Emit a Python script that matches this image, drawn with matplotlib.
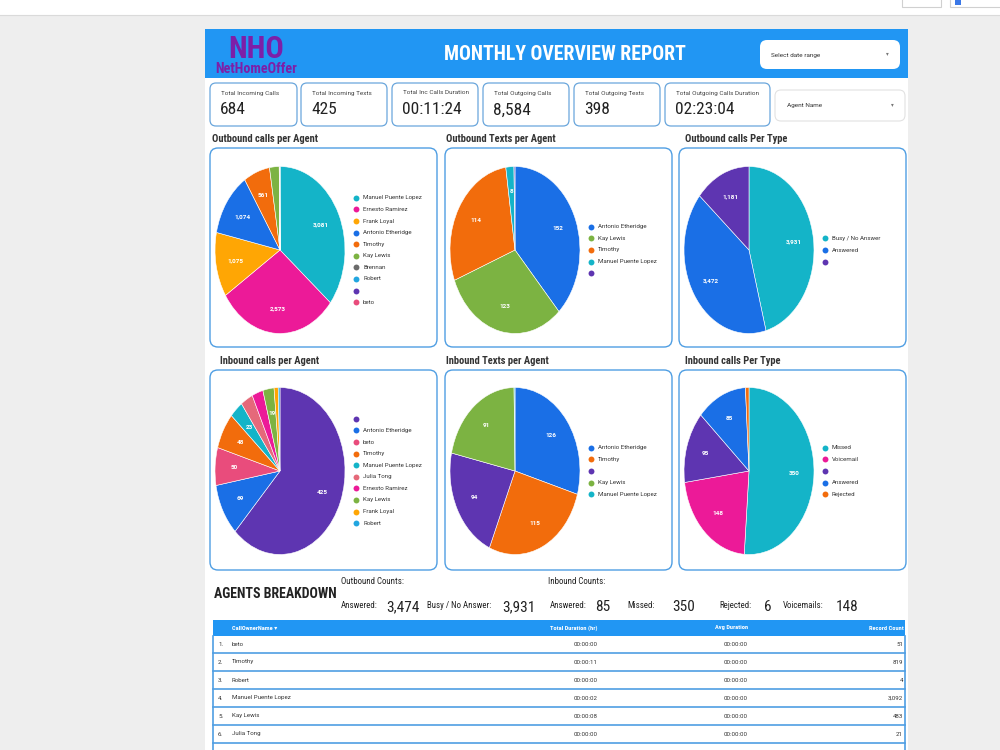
import numpy as np
import matplotlib
matplotlib.use('Agg')
import matplotlib.pyplot as plt
from matplotlib import font_manager as fm
from matplotlib.patches import FancyBboxPatch, Rectangle

W, H = 1000, 750

names = {f.name for f in fm.fontManager.ttflist}


def pick(*cands):
    for c in cands:
        if c in names:
            return c
    return 'DejaVu Sans'


NARROW = pick('Roboto Condensed', 'Liberation Sans Narrow', 'Arial Narrow', 'Liberation Sans')
SANS = pick('Roboto', 'Liberation Sans')
plt.rcParams['font.family'] = [SANS, 'DejaVu Sans']
NARROW_F = [NARROW, 'DejaVu Sans']

# ---- data ----
kpi_labels = ['Total Incoming Calls', 'Total Incoming Texts', 'Total Inc Calls Duration',
              'Total Outgoing Calls', 'Total Outgoing Texts', 'Total Outgoing Calls Duration']
kpi_values = ['684', '425', '00:11:24', '8,584', '398', '02:23:04']

ob_call_agents = ['Manuel Puente Lopez', 'Ernesto Ramirez', 'Frank Loyal', 'Antonio Etheridge',
                  'Timothy', 'Kay Lewis', 'Brennan', 'Robert', '', 'beto']
ob_call_counts = [3081, 2573, 1075, 1074, 561, 205, 8, 4, 3, 2]
ob_call_shown = 5

ob_text_agents = ['Antonio Etheridge', 'Kay Lewis', 'Timothy', 'Manuel Puente Lopez', '']
ob_text_counts = [152, 123, 114, 8, 1]
ob_text_shown = 4

ob_types = ['Busy / No Answer', 'Answered', '']
ob_type_counts = [3931, 3472, 1181]
ob_type_shown = 3

ib_call_agents = ['', 'Antonio Etheridge', 'beto', 'Timothy', 'Manuel Puente Lopez', 'Julia Tong',
                  'Ernesto Ramirez', 'Kay Lewis', 'Frank Loyal', 'Robert']
ib_call_counts = [425, 69, 50, 48, 23, 21, 19, 19, 7, 3]
ib_call_labelled = ['', 'Antonio Etheridge', 'beto', 'Timothy', 'Manuel Puente Lopez', 'Kay Lewis']

ib_text_agents = ['Antonio Etheridge', 'Timothy', '', 'Kay Lewis', 'Manuel Puente Lopez']
ib_text_counts = [126, 115, 94, 91, 1]
ib_text_shown = 4

ib_types = ['Missed', 'Voicemail', '', 'Answered', 'Rejected']
ib_type_counts = [350, 148, 95, 85, 6]
ib_type_shown = 4

count_labels = ['Answered:', 'Busy / No Answer:', 'Answered:', 'Missed:', 'Rejected:', 'Voicemails:']
count_values = ['3,474', '3,931', '85', '350', '6', '148']

table_cols = ['CallOwnerName \u25be', 'Total Duration (hr)', 'Avg Duration', 'Record Count']
table_names = ['beto', 'Timothy', 'Robert', 'Manuel Puente Lopez', 'Kay Lewis', 'Julia Tong']
table_total = ['00:00:00', '00:00:11', '00:00:00', '00:00:02', '00:00:08', '00:00:00']
table_avg = ['00:00:00'] * 6
table_count = ['51', '819', '4', '3,092', '483', '21']

colors = {
    'Manuel Puente Lopez': '#14b4c8', 'Ernesto Ramirez': '#ec1a98', 'Frank Loyal': '#ffa604',
    'Antonio Etheridge': '#1a6fe6', 'Timothy': '#f26c0c', 'Kay Lewis': '#7cb342',
    'Brennan': '#6b6b6b', 'Robert': '#22a6e0', '': '#5e35b1', 'beto': '#e94c7c',
    'Julia Tong': '#e5697a',
    'Busy / No Answer': '#14b4c8', 'Answered': '#1a6fe6', 'Missed': '#14b4c8',
    'Voicemail': '#ec1a98', 'Rejected': '#f26c0c',
}

BLUE = '#2196f3'
BORDER = '#4f9ee3'
PURPLE = '#7d1fa8'

fig = plt.figure(figsize=(10, 7.5), dpi=100, facecolor='#eeeeee')
bg = fig.add_axes([0, 0, 1, 1])
bg.set_xlim(0, W)
bg.set_ylim(H, 0)
bg.axis('off')


def rbox(x0, y0, x1, y1, fc='white', ec='none', lw=1.0, r=5, z=1):
    bg.add_patch(FancyBboxPatch((x0, y0), x1 - x0, y1 - y0,
                                boxstyle=f'round,pad=0,rounding_size={r}',
                                fc=fc, ec=ec, lw=lw, zorder=z))


def rect(x0, y0, x1, y1, fc, ec='none', lw=0, z=1):
    bg.add_patch(Rectangle((x0, y0), x1 - x0, y1 - y0, fc=fc, ec=ec, lw=lw, zorder=z))


# browser strip
rect(0, 0, W, 15, 'white')
bg.plot([0, W], [15, 15], color='#dadada', lw=0.8)
rect(902, -3, 941, 7, 'white', '#d0d0d0', 0.8)
rect(950, -3, 1003, 7, 'white', '#d0d0d0', 0.8)
rect(955, -1, 961, 5, '#3b78e7', z=2)

# report sheet
rect(205, 29, 908, H, 'white')
rect(205, 29, 908, 78, BLUE)

bg.text(256, 49, 'NHO', fontsize=22, fontweight='bold', color=PURPLE, family=NARROW_F,
        ha='center', va='center')
bg.text(256, 69, 'NetHomeOffer', fontsize=10.2, fontweight='bold', color=PURPLE, family=NARROW_F,
        ha='center', va='center')
bg.text(565, 54, 'MONTHLY OVERVIEW REPORT', fontsize=14.2, fontweight='bold', color='white',
        family=NARROW_F, ha='center', va='center')

rbox(760, 40, 900, 69, r=7, z=2)
bg.text(771, 55, 'Select date range', fontsize=4.6, color='#333333', va='center', zorder=3)
bg.text(887, 54, '\u25be', fontsize=4, color='#777777', va='center', ha='center',
        family='DejaVu Sans', zorder=3)

# KPI cards
kpi_x = [(210, 297), (301, 387), (392, 478), (483, 569), (574, 660), (665, 770)]
for (x0, x1), lab, val in zip(kpi_x, kpi_labels, kpi_values):
    rbox(x0, 83, x1, 126, ec='#6aa6dc', lw=0.9, r=6, z=2)
    bg.text(x0 + 11, 93, lab, fontsize=4.6, color='#444444', va='center', zorder=3)
    bg.text(x0 + 10, 110, val, fontsize=12.5, color='#222222', family=NARROW_F, va='center',
            zorder=3)

rbox(775, 90, 905, 121, ec='#e2e2e2', lw=0.8, r=6, z=2)
bg.text(787, 106, 'Agent Name', fontsize=4.6, color='#333333', va='center', zorder=3)
bg.text(892, 105, '\u25be', fontsize=4, color='#777777', va='center', ha='center',
        family='DejaVu Sans', zorder=3)

# pie panels
panel_x = [(210, 437), (445, 672), (679, 906)]
rows = [(148, 347, 139, 250), (370, 570, 361, 471)]
titles = [['Outbound calls per Agent', 'Outbound Texts per Agent', 'Outbound calls Per Type'],
          ['Inbound calls per Agent', 'Inbound Texts per Agent', 'Inbound calls Per Type']]
title_dx = [[2, 1, 6], [10, 1, 6]]
pies = [[(ob_call_agents, ob_call_counts, ob_call_agents[:ob_call_shown]),
         (ob_text_agents, ob_text_counts, ob_text_agents[:ob_text_shown]),
         (ob_types, ob_type_counts, ob_types[:ob_type_shown])],
        [(ib_call_agents, ib_call_counts, ib_call_labelled),
         (ib_text_agents, ib_text_counts, ib_text_agents[:ib_text_shown]),
         (ib_types, ib_type_counts, ib_types[:ib_type_shown])]]

PW, PH = 130, 167
for r, (y0, y1, ty, cy) in enumerate(rows):
    for c, (x0, x1) in enumerate(panel_x):
        rbox(x0, y0, x1, y1, ec=BORDER, lw=1.0, r=8, z=2)
        bg.text(x0 + title_dx[r][c], ty, titles[r][c], fontsize=7.6, fontweight='bold',
                color='#333333', family=NARROW_F, va='center', zorder=3)
        labels, vals, labelled = pies[r][c]
        cx = x0 + 70
        ax = fig.add_axes([(cx - PW / 2) / W, 1 - (cy + PH / 2) / H, PW / W, PH / H], zorder=5)
        wedges, _ = ax.pie(vals, colors=[colors[l] for l in labels], startangle=90,
                           counterclock=False, radius=1,
                           wedgeprops=dict(edgecolor='white', linewidth=0.4))
        ax.set_aspect('auto')
        ax.set_xlim(-1, 1)
        ax.set_ylim(-1, 1)
        ax.axis('off')
        for w, lab, v in zip(wedges, labels, vals):
            if lab in labelled:
                a = np.deg2rad((w.theta1 + w.theta2) / 2)
                ax.text(0.7 * np.cos(a), 0.7 * np.sin(a), f'{v:,}', fontsize=4.6,
                        fontweight='bold', color='white', ha='center', va='center')
        # legend
        lx = x0 + 146
        n = len(labels)
        for i, lab in enumerate(labels):
            ly = cy + (i - (n - 1) / 2) * 11.6
            bg.scatter(lx, ly, s=18, color=colors[lab], zorder=4, linewidths=0)
            bg.text(lx + 7, ly, lab, fontsize=4.4, color='#333333', va='center', zorder=4)

# agents breakdown
bg.text(214, 594, 'AGENTS BREAKDOWN', fontsize=10, fontweight='bold', color='#222222',
        family=NARROW_F, va='center')
bg.text(341, 582, 'Outbound Counts:', fontsize=6.4, color='#222222', family=NARROW_F, va='center')
bg.text(548, 582, 'Inbound Counts:', fontsize=6.4, color='#222222', family=NARROW_F, va='center')
lab_x = [341, 427, 550, 627, 719, 783]
val_x = [386, 502, 595, 672, 764, 836]
for lab, val, lx, vx in zip(count_labels, count_values, lab_x, val_x):
    bg.text(lx, 605, lab, fontsize=6.4, color='#222222', family=NARROW_F, va='center')
    bg.text(vx, 607, val, fontsize=11, color='#222222', family=NARROW_F, va='center')

# table
rect(213, 620, 905, 636, BLUE, z=2)
hx = [(232, 'left'), (598, 'right'), (748, 'right'), (904, 'right')]
for (x, ha), col in zip(hx, table_cols):
    bg.text(x, 628, col, fontsize=4.6, fontweight='bold', color='white', family=NARROW_F,
            ha=ha, va='center', zorder=3)
bg.plot([213, 213], [636, H], color=BORDER, lw=1.2, zorder=3)
bg.plot([905, 905], [636, H], color=BORDER, lw=1.2, zorder=3)
for i, (nm, tt, av, rc) in enumerate(zip(table_names, table_total, table_avg, table_count)):
    yc = 644 + 18 * i
    bg.plot([213, 905], [yc + 9, yc + 9], color=BORDER, lw=1.2, zorder=3)
    bg.text(218, yc, f'{i + 1}.', fontsize=4.4, color='#333333', va='center', zorder=3)
    bg.text(232, yc, nm, fontsize=4.4, color='#333333', va='center', zorder=3)
    bg.text(598, yc, tt, fontsize=4.4, color='#333333', ha='right', va='center', zorder=3)
    bg.text(748, yc, av, fontsize=4.4, color='#333333', ha='right', va='center', zorder=3)
    bg.text(903, yc, rc, fontsize=4.4, color='#333333', ha='right', va='center', zorder=3)

fig.savefig('out.png', dpi=100, facecolor=fig.get_facecolor())
